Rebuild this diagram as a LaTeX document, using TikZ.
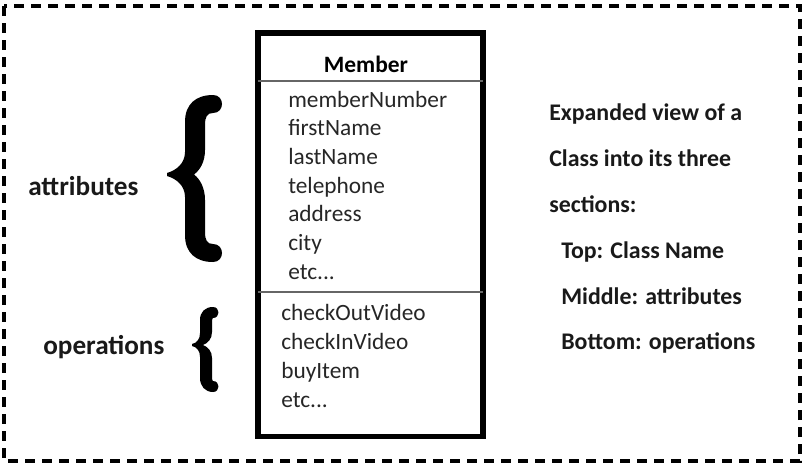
\documentclass[tikz,border=0pt]{standalone}
\usepackage{fontspec}
\setmainfont{Carlito}
\usepackage{tikz}
\usetikzlibrary{positioning}
\newcommand{\etcdots}{etc...}

\begin{document}
\begin{tikzpicture}[x=0.75pt,y=-0.75pt,
  item/.style={anchor=base west,inner sep=0pt,font=\fontsize{17.5pt}{20pt}\selectfont,text=black!85},
  lbl/.style={anchor=base west,inner sep=0pt,font=\fontsize{20.4pt}{23pt}\selectfont\bfseries,text=black!90},
  note/.style={anchor=base west,inner sep=0pt,font=\fontsize{17.9pt}{20pt}\selectfont\bfseries,text=black!90}]
\useasboundingbox (0,0) rectangle (803,464);
% dashed frame
\draw[line width=3pt,dash pattern=on 7.5pt off 5.25pt] (4,6) rectangle (800,461);
% class box
\draw[line width=4.2pt] (258,33) rectangle (483,436.5);
\draw[black!60,line width=0.9pt] (258,81) -- (483,81);
\draw[black!60,line width=0.9pt] (258,292) -- (483,292);
\node[anchor=base,inner sep=0pt,font=\fontsize{17.6pt}{20pt}\selectfont\bfseries] (cname) at (366,72.7) {Member};
% attributes and operations
\foreach \t [count=\i from 0] in {memberNumber,firstName,lastName,telephone,address,city,\etcdots}
  \node[item] (attr\i) at (288,107+28.7*\i) {\t};
\foreach \t [count=\i from 0] in {checkOutVideo,checkInVideo,buyItem,\etcdots}
  \node[item] (op\i) at (281,320.7+29*\i) {\t};
% braces
\fill (213,95) .. controls (196,95) and (185,104) .. (185,122) -- (185,152)
  .. controls (185,163) and (177,170) .. (167,173) -- (167,176)
  .. controls (177,179) and (185,186) .. (185,197) -- (185,235)
  .. controls (185,253) and (196,262) .. (213,262)
  .. controls (225,262) and (225,244) .. (213,244)
  .. controls (207,244) and (205,240) .. (205,232) -- (205,200)
  .. controls (205,188) and (200,179) .. (194,174.5)
  .. controls (200,170) and (205,162) .. (205,150) -- (205,125)
  .. controls (205,117) and (207,113) .. (213,113)
  .. controls (225,113) and (225,95) .. (213,95) -- cycle;
\fill (213,307) .. controls (205,307) and (200,312) .. (200,320) -- (200,333)
  .. controls (200,339) and (197,343) .. (192,344) -- (192,346)
  .. controls (197,347) and (200,351) .. (200,357) -- (200,378)
  .. controls (200,386) and (205,392) .. (213,392)
  .. controls (220.3,392) and (220.3,381) .. (213,381)
  .. controls (212.5,381) and (212,380) .. (212,377) -- (212,358)
  .. controls (212,351) and (208,347) .. (203,345)
  .. controls (208,343) and (212,339) .. (212,332) -- (212,322)
  .. controls (212,319) and (212.5,318) .. (213,318)
  .. controls (220.3,318) and (220.3,307) .. (213,307) -- cycle;
\node[lbl] (attrlbl) at (28,195) {attributes};
\node[lbl] (oplbl) at (43,354) {operations};
% explanation
\node[note] (n1) at (549,120) {Expanded view of a};
\node[note] (n2) at (549,166) {Class into its three};
\node[note] (n3) at (549,212) {sections:};
\node[note] (n4) at (561,258) {Top: Class Name};
\node[note] (n5) at (561,304) {Middle: attributes};
\node[note] (n6) at (561,349) {Bottom: operations};
\end{tikzpicture}
\end{document}
